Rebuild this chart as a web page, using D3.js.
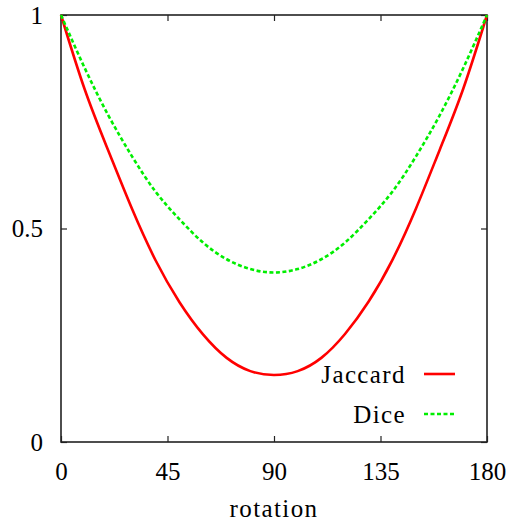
<!DOCTYPE html>
<html>
<head>
<meta charset="utf-8">
<script src="https://cdn.jsdelivr.net/npm/d3@7"></script>
<style>
  body { margin: 0; background: #fff; }
  svg text { font-family: 'Liberation Serif', serif; font-size: 25px; fill: #000; }
  .word { letter-spacing: 1.4px; }
  .tick line { stroke: #222; stroke-width: 1.2; }
</style>
</head>
<body>
<svg id="chart" width="513" height="525"></svg>
<script>
// rotation angles (degrees) and similarity
const angles = [0, 10, 20, 30, 40, 50, 60, 70, 80, 90, 100, 110, 120, 130, 140, 150, 160, 170, 180]
const jaccard = [1.0, 0.826, 0.682, 0.546, 0.425, 0.328, 0.252, 0.197, 0.166, 0.157,
  0.166, 0.197, 0.253, 0.329, 0.426, 0.547, 0.684, 0.828, 1.0]
const dice = [1.0, 0.876, 0.765, 0.669, 0.586, 0.522, 0.467, 0.428, 0.405, 0.397,
  0.405, 0.428, 0.467, 0.522, 0.586, 0.669, 0.765, 0.876, 1.0]
const xTicks = [0, 45, 90, 135, 180]
const yTicks = [0, 0.5, 1]
const series = [
  { name: 'Jaccard', values: jaccard, color: '#ff0000', dash: null },
  { name: 'Dice', values: dice, color: '#00ee00', dash: '4,2.5' }
]

const svg = d3.select('#chart')
const plot = { left: 61, right: 487, top: 15, bottom: 442 }

const xScale = d3.scaleLinear().domain([0, 180]).range([plot.left, plot.right])
const yScale = d3.scaleLinear().domain([0, 1]).range([plot.bottom, plot.top])

// axes with inward ticks on all four sides (gnuplot style)
svg.append('g').attr('transform', `translate(0,${plot.bottom})`)
  .call(d3.axisBottom(xScale).tickValues(xTicks).tickSizeInner(-6).tickSizeOuter(0).tickPadding(20))
svg.append('g').attr('transform', `translate(0,${plot.top})`)
  .call(d3.axisTop(xScale).tickValues(xTicks).tickSizeInner(-6).tickSizeOuter(0).tickFormat(''))
svg.append('g').attr('transform', `translate(${plot.left},0)`)
  .call(d3.axisLeft(yScale).tickValues(yTicks).tickSizeInner(-6).tickSizeOuter(0).tickPadding(18).tickFormat(d => String(d)))
svg.append('g').attr('transform', `translate(${plot.right},0)`)
  .call(d3.axisRight(yScale).tickValues(yTicks).tickSizeInner(-6).tickSizeOuter(0).tickFormat(''))

svg.selectAll('.domain').remove()
svg.selectAll('.tick text').attr('font-family', null).attr('font-size', null)

svg.append('rect')
  .attr('x', plot.left).attr('y', plot.top)
  .attr('width', plot.right - plot.left).attr('height', plot.bottom - plot.top)
  .attr('fill', 'none').attr('stroke', '#222').attr('stroke-width', 1.6)

const line = d3.line()
  .x((d, i) => xScale(angles[i]))
  .y(d => yScale(d))
  .curve(d3.curveNatural)

series.forEach(s => {
  svg.append('path')
    .datum(s.values)
    .attr('d', line)
    .attr('fill', 'none')
    .attr('stroke', s.color)
    .attr('stroke-width', 2.6)
    .attr('stroke-dasharray', s.dash)
})

// legend, bottom right inside the frame
const legend = svg.append('g')
series.forEach((s, i) => {
  const y = 374 + i * 40
  legend.append('text').attr('class', 'word')
    .attr('x', 406).attr('y', y).attr('dy', '0.34em')
    .attr('text-anchor', 'end').text(s.name)
  legend.append('line')
    .attr('x1', 424).attr('x2', 455).attr('y1', y).attr('y2', y)
    .attr('stroke', s.color).attr('stroke-width', 2.6)
    .attr('stroke-dasharray', s.dash)
})

svg.append('text').attr('class', 'word')
  .attr('x', (plot.left + plot.right) / 2).attr('y', 517)
  .attr('text-anchor', 'middle').text('rotation')
</script>
</body>
</html>
